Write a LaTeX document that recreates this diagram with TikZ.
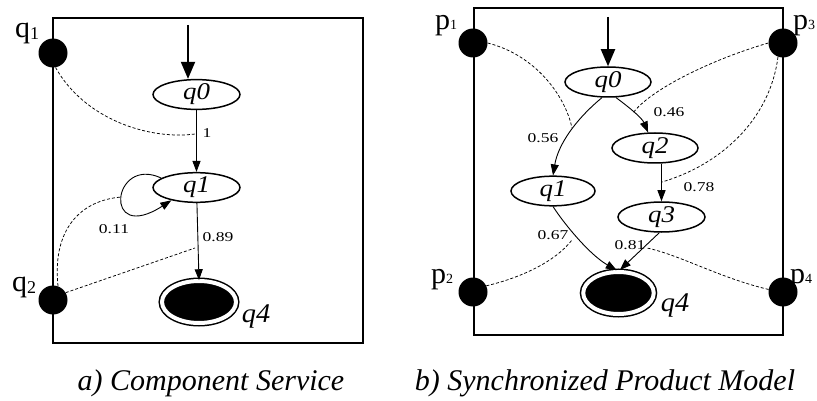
\documentclass[tikz,border=0pt]{standalone}
\usepackage{fontspec}
\usepackage{graphicx}
\setmainfont{Liberation Serif}
\usetikzlibrary{arrows.meta,shapes.geometric}
\newcommand\wx[2][1.25]{\scalebox{#1}[1]{#2}}
\newcommand\qsub[1]{{\fontsize{18}{18}\selectfont\raisebox{-2pt}{#1}}}
\newcommand\psub[1]{{\fontsize{14}{14}\selectfont #1}}
\begin{document}
\begin{tikzpicture}[x=1pt,y=-1pt,
  frame/.style={line width=1.7pt},
  portdot/.style={circle,fill=black,minimum size=29pt,inner sep=0pt},
  stnode/.style={ellipse,draw,line width=1.5pt,inner sep=0pt,font=\fontsize{24}{24}\selectfont\itshape},
  finst/.style={ellipse,draw,fill=black,line width=1.5pt,double=white,double distance=4pt,inner sep=0pt},
  trans/.style={line width=0.9pt,-{Triangle[length=11pt,width=8pt]}},
  startarr/.style={line width=2pt,-{Triangle[length=17pt,width=14pt]}},
  dsh/.style={dash pattern=on 3pt off 2pt,line width=0.75pt},
  elab/.style={font=\fontsize{13.5}{13.5}\selectfont,inner sep=0pt},
  plab/.style={font=\fontsize{30}{30}\selectfont,inner sep=0pt,anchor=base west},
  flab/.style={font=\fontsize{27}{27}\selectfont\itshape,inner sep=0pt},
  captxt/.style={font=\fontsize{30}{30}\selectfont\itshape,inner sep=0pt,anchor=base}]
\fill[white] (0,0) rectangle (817,401);
\useasboundingbox (0,0) rectangle (817,401);

% ---------------- left panel ----------------
\draw[frame] (53,18) rectangle (363,343);
\node[portdot] (P1) at (53,53) {};
\node[portdot] (P2) at (53,300) {};
\node[plab] (LP1) at (15,38) {q\qsub{1}};
\node[plab] (LP2) at (12,291) {q\qsub{2}};

\node[stnode,minimum width=87pt,minimum height=27pt] (Lq0) at (196.5,94.5) {\wx[1.12]{q0}};
\node[stnode,minimum width=87pt,minimum height=27pt] (Lq1) at (196.5,187.5) {\wx[1.12]{q1}};
\node[finst,minimum width=74pt,minimum height=42pt] (Lq4) at (199,302) {};
\node[flab] (Lq4l) at (256,316) {\wx[1.05]{q4}};

\coordinate (Ls) at (188,25);
\draw[startarr] (Ls) -- (Ls |- Lq0.north);
\draw[trans] (Lq0) -- (Lq1);
\draw[trans] (Lq1) -- (Lq4.north);
\draw[trans] (Lq1.165) .. controls (112,155) and (102,245) .. (Lq1.207);

\node[elab] (Le1) at (207,133) {\wx[1.3]{1}};
\node[elab] (Le2) at (114,229) {\wx[1.3]{0.11}};
\node[elab] (Le3) at (218,237) {\wx[1.3]{0.89}};

\coordinate (La) at (195,134);
\coordinate (Lb) at (122,197);
\coordinate (Lc) at (195,248);
\draw[dsh] (P1.280) .. controls (85,120) and (150,140) .. (La);
\draw[dsh] (P2.70) .. controls (52,230) and (80,200) .. (Lb);
\draw[dsh] (P2.30) -- (Lc);

\node[captxt] (Lcap) at (211,390) {a) Component Service};

% ---------------- right panel ----------------
\draw[frame] (474,8) rectangle (783,335);
\node[portdot] (R1) at (473,43) {};
\node[portdot] (R2) at (473,292) {};
\node[portdot] (R3) at (783,43) {};
\node[portdot] (R4) at (783,292) {};
\node[plab] (LR1) at (435,30) {p\psub{1}};
\node[plab] (LR2) at (431,283) {p\psub{2}};
\node[plab] (LR3) at (793,30) {p\psub{3}};
\node[plab] (LR4) at (790,283) {p\psub{4}};

\node[stnode,minimum width=86pt,minimum height=30pt] (Rq0) at (608,82) {\wx[1.12]{q0}};
\node[stnode,minimum width=84pt,minimum height=25pt] (Rq1) at (553,191) {\wx[1.12]{q1}};
\node[stnode,minimum width=86pt,minimum height=30pt] (Rq2) at (655,148) {\wx[1.12]{q2}};
\node[stnode,minimum width=87pt,minimum height=30pt] (Rq3) at (661.5,217) {\wx[1.12]{q3}};
\node[finst,minimum width=70.5pt,minimum height=42pt] (Rq4) at (618.5,293) {};
\node[flab] (Rq4l) at (675,305) {\wx[1.05]{q4}};

\coordinate (Rs) at (608,17);
\draw[startarr] (Rs) -- (Rq0.north);
\draw[trans] (Rq0.249) .. controls (575,120) and (558,145) .. (Rq1.north);
\draw[trans] (Rq0.297) .. controls (630,108) and (642,118) .. (Rq2.114);
\draw[trans] (Rq3 |- Rq2.south) -- (Rq3.north);
\draw[trans,shorten >=2pt] (Rq1.south) .. controls (565,225) and (590,255) .. (Rq4.north);
\draw[trans,shorten >=2pt] (Rq3.262) -- (Rq4.north);

\node[elab] (Re1) at (543,138) {\wx[1.3]{0.56}};
\node[elab] (Re2) at (669,112) {\wx[1.3]{0.46}};
\node[elab] (Re3) at (699,187) {\wx[1.3]{0.78}};
\node[elab] (Re4) at (553,235) {\wx[1.3]{0.67}};
\node[elab] (Re5) at (630,245) {\wx[1.3]{0.81}};

\coordinate (Ra) at (572,128);
\coordinate (Rb) at (633,113);
\coordinate (Rc) at (662,182);
\coordinate (Rd) at (572,240);
\coordinate (Re) at (647,248);
\draw[dsh] (R1.east) .. controls (535,55) and (565,95) .. (Ra);
\draw[dsh] (R3.west) .. controls (710,60) and (650,90) .. (Rb);
\draw[dsh] (R3.250) .. controls (770,120) and (720,165) .. (Rc);
\draw[dsh] (R2.25) .. controls (520,278) and (555,262) .. (Rd);
\draw[dsh] (R4.170) .. controls (720,278) and (680,255) .. (Re);

\node[captxt] (Rcap) at (605,390) {b) Synchronized Product Model};
\end{tikzpicture}
\end{document}
